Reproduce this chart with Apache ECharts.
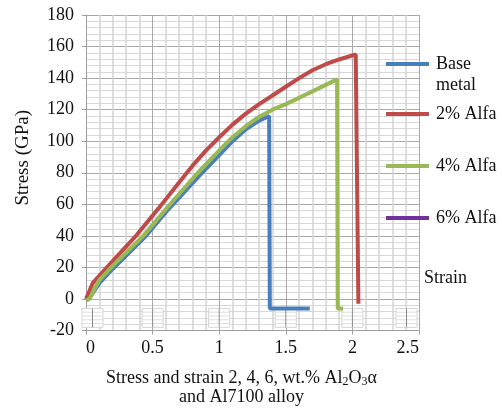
<!DOCTYPE html>
<html>
<head>
<meta charset="utf-8">
<script src="https://cdn.jsdelivr.net/npm/echarts@6/dist/echarts.min.js"></script>
<style>
  html, body { margin: 0; padding: 0; background: #ffffff; }
  #chart { width: 502px; height: 411px; }
</style>
</head>
<body>
<div id="chart"></div>
<script>
// Stress-strain curves, [strain, stress in GPa]
const baseMetal = [[0, -1], [0.03, 1], [0.1, 10], [0.2, 19], [0.44, 39], [0.62, 57], [0.85, 78], [1.02, 93], [1.1, 100], [1.2, 107.5], [1.3, 113], [1.375, 116], [1.38, -6], [1.68, -6]];
const alfa2 = [[0, 0], [0.03, 6], [0.05, 10], [0.2, 24], [0.38, 40.5], [0.56, 59], [0.7, 74], [0.8, 84.5], [0.9, 94], [1.0, 102.5], [1.1, 110.5], [1.2, 117.5], [1.3, 123.5], [1.4, 129], [1.5, 134.5], [1.6, 140], [1.7, 145], [1.8, 148.8], [1.9, 151.8], [2.025, 155], [2.045, -3]];
const alfa4 = [[0, -1], [0.025, 0], [0.1, 12], [0.2, 21], [0.43, 40], [0.61, 58], [0.84, 80], [1.01, 95], [1.1, 102.5], [1.2, 109.5], [1.3, 115.5], [1.4, 120], [1.5, 123.5], [1.6, 127.5], [1.7, 131.6], [1.8, 135.7], [1.885, 139.2], [1.89, -6], [1.93, -6]];
const alfa6 = [];

const seriesNames = ['Base metal', '2% Alfa', '4% Alfa', '6% Alfa'];
const seriesColors = ['#4a7ebb', '#be4b48', '#98b954', '#7030a0'];

// Axis settings
const xMin = 0, xMax = 2.5, xStep = 0.5;
const yMin = -20, yMax = 180, yStep = 20;
// Small label boxes sitting under the zero line at each x tick
const boxTicks = [0, 0.5, 1, 1.5, 2, 2.5];

const serif = '"Liberation Serif", "Times New Roman", serif';
const fontSize = 18;

const chart = echarts.init(document.getElementById('chart'), null, { renderer: 'canvas' });

function legendAt(name, top) {
  return {
    data: [name],
    orient: 'vertical',
    left: 386,
    top: top,
    padding: 0,
    icon: 'rect',
    itemWidth: 43,
    itemHeight: 4,
    formatter: n => (n === 'Base metal' ? 'Base' : n),
    textStyle: { fontFamily: serif, fontSize: fontSize, color: '#111', padding: [0, 0, 0, 2] }
  };
}

const option = {
  backgroundColor: '#ffffff',
  animation: false,
  grid: { left: 86, right: 83, top: 15, bottom: 75.5, containLabel: false },
  legend: [
    legendAt(seriesNames[0], 55),
    legendAt(seriesNames[1], 105),
    legendAt(seriesNames[2], 157),
    legendAt(seriesNames[3], 209)
  ],
  graphic: [
    { type: 'text', left: 436, top: 76, style: { text: 'metal', font: fontSize + 'px ' + serif, fill: '#111' } },
    { type: 'text', left: 424, top: 269, style: { text: 'Strain', font: fontSize + 'px ' + serif, fill: '#111' } }
  ],
  xAxis: {
    type: 'value',
    min: xMin, max: xMax, interval: xStep,
    name: '{n|Stress and strain 2, 4, 6, wt.% Al}{s|2}{n|O}{s|3}{n|α}\n{n|and Al7100 alloy}',
    nameLocation: 'middle',
    nameGap: 38,
    nameTextStyle: {
      padding: [0, 22, 0, 0],
      rich: {
        n: { fontFamily: serif, fontSize: 18, color: '#111', lineHeight: 19 },
        s: { fontFamily: serif, fontSize: 12, color: '#111', verticalAlign: 'bottom', padding: [6, 0, 0, 0], lineHeight: 19 }
      }
    },
    axisLine: { show: true, onZero: false, lineStyle: { color: '#a0a0a0', width: 1 } },
    axisTick: { show: true, length: 4, lineStyle: { color: '#a0a0a0' } },
    axisLabel: { fontFamily: serif, fontSize: fontSize, color: '#111', margin: 9, alignMinLabel: 'left', alignMaxLabel: 'right' },
    splitLine: { show: true, lineStyle: { color: '#a8a8a8', width: 1 } },
    minorTick: { show: false, splitNumber: 5 },
    minorSplitLine: { show: true, lineStyle: { color: '#d4d4d4', width: 1.5 } }
  },
  yAxis: {
    type: 'value',
    min: yMin, max: yMax, interval: yStep,
    name: 'Stress (GPa)',
    nameLocation: 'middle',
    nameRotate: 90,
    nameGap: 53,
    nameTextStyle: { fontFamily: serif, fontSize: 19, color: '#111', padding: [0, 0, 0, 30] },
    axisLine: { show: true, lineStyle: { color: '#a0a0a0', width: 1 } },
    axisTick: { show: true, length: 4, lineStyle: { color: '#a0a0a0' } },
    axisLabel: { fontFamily: serif, fontSize: fontSize, color: '#111', margin: 12 },
    splitLine: { show: true, lineStyle: { color: '#a8a8a8', width: 1 } },
    minorTick: { show: false, splitNumber: 5 },
    minorSplitLine: { show: true, lineStyle: { color: '#d8d8d8', width: 1 } }
  },
  series: [
    {
      type: 'custom',
      name: 'boxes',
      silent: true,
      z: 1,
      data: boxTicks.map(v => [v]),
      renderItem: function (params, api) {
        const cs = params.coordSys;
        const top = api.coord([api.value(0), -6]);
        const bot = api.coord([api.value(0), -18]);
        const w = 21;
        let x0 = top[0] - w / 2;
        x0 = Math.max(cs.x - 4, Math.min(cs.x + cs.width - w - 2, x0));
        const y0 = top[1], h = bot[1] - top[1];
        const children = [
          { type: 'rect', shape: { x: x0, y: y0, width: w, height: h }, style: { fill: '#ffffff', stroke: '#d6d6d6', lineWidth: 1 } }
        ];
        for (let k = 1; k < 5; k++) {
          const yy = y0 + h * k / 5;
          children.push({ type: 'line', shape: { x1: x0, y1: yy, x2: x0 + w, y2: yy }, style: { stroke: '#dedede', lineWidth: 1 } });
        }
        children.push({ type: 'line', shape: { x1: x0 + w / 2, y1: y0, x2: x0 + w / 2, y2: y0 + h }, style: { stroke: '#8a8a8a', lineWidth: 1 } });
        return { type: 'group', children: children };
      }
    },
    { type: 'line', name: seriesNames[0], data: baseMetal, showSymbol: false, color: seriesColors[0], lineStyle: { width: 4, color: seriesColors[0] }, z: 3 },
    { type: 'line', name: seriesNames[1], data: alfa2, showSymbol: false, color: seriesColors[1], lineStyle: { width: 4, color: seriesColors[1] }, z: 4 },
    { type: 'line', name: seriesNames[2], data: alfa4, showSymbol: false, color: seriesColors[2], lineStyle: { width: 4, color: seriesColors[2] }, z: 5 },
    { type: 'line', name: seriesNames[3], data: alfa6, showSymbol: false, color: seriesColors[3], lineStyle: { width: 4, color: seriesColors[3] }, z: 6 }
  ]
};

chart.setOption(option);
</script>
</body>
</html>
